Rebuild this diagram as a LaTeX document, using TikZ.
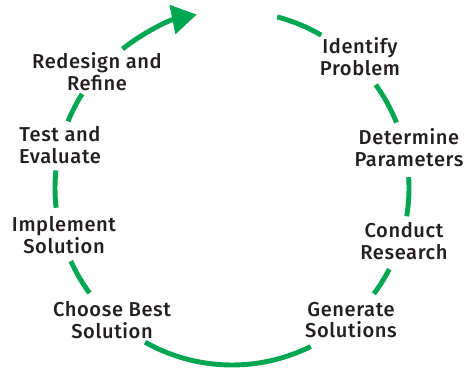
\documentclass[tikz,border=0pt]{standalone}
\usepackage{fontspec}
\setmainfont{Fira Sans}[UprightFont=* Medium, LetterSpace=3]
\usetikzlibrary{arrows.meta}
\definecolor{cycgreen}{HTML}{00A651}
\definecolor{txtgray}{HTML}{231F20}
\begin{document}
\begin{tikzpicture}[line cap=butt, font=\fontsize{14.3}{15.5}\selectfont, every node/.style={align=center, text=txtgray}]
			\useasboundingbox (-5.8,-4.5) rectangle (5.875,4.7);
			\coordinate (c) at (0,0);
			\def\r{4.425}
			% arcs between the steps
			\foreach \a/\b in {75.2/59.7, 35.7/21.7, 3.5/-9.2, -27.3/-36.7, -63.6/-119.4, -143.6/-155.6, -173.6/-185.7, -202.1/-212.1}
			\draw[cycgreen, line width=3.5pt] ([shift={(\a:\r)}]c) arc[start angle=\a, end angle=\b, radius=\r];
			\draw[cycgreen, line width=3.5pt, -{Triangle[length=0.62cm, width=0.72cm]}] ([shift={(128.2:\r)}]c) arc[start angle=128.2, end angle=101.5, radius=\r];
			% the steps
			\node (identify) at (3.2,3.275) {Identify\\Problem};
			\node (determine) at (4.425,1.0) {Determine\\Parameters};
			\node (conduct) at (4.3,-1.325) {Conduct\\Research};
			\node (generate) at (2.975,-3.3) {Generate\\Solutions};
			\node (choose) at (-3.0,-3.3) {Choose Best\\Solution};
			\node (implement) at (-4.2,-1.175) {Implement\\Solution};
			\node (test) at (-4.3,1.075) {Test and\\Evaluate};
			\node (redesign) at (-3.375,2.9) {Redesign and\\Refine};
		\end{tikzpicture}
\end{document}
